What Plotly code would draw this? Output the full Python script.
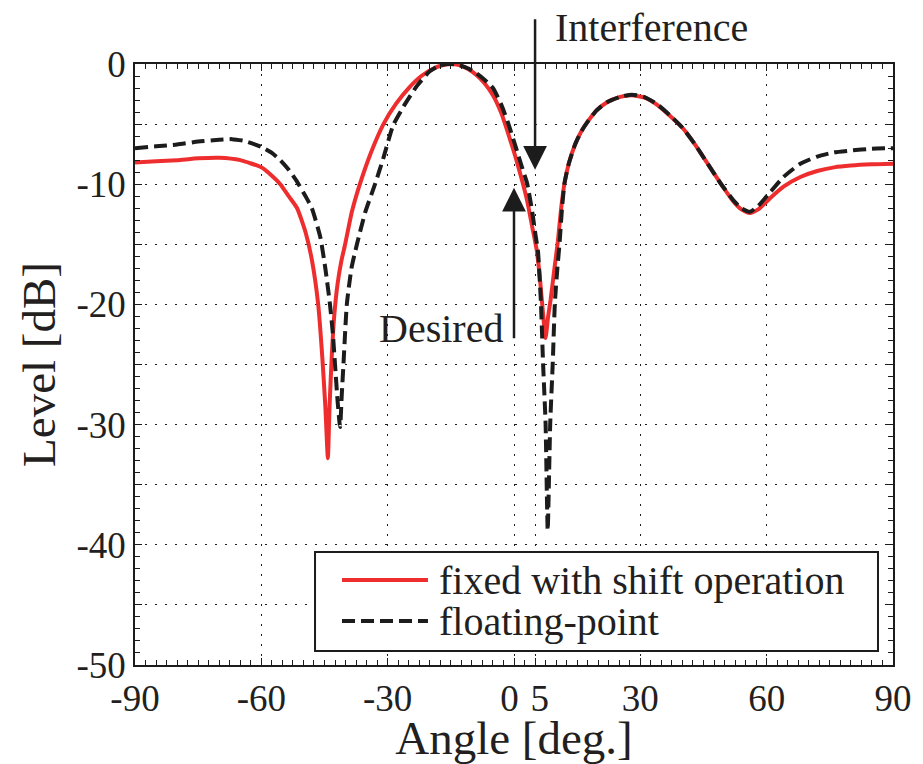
import plotly.graph_objects as go

# ---- data ----
fixed_x = [-90, -85, -80, -75, -70, -65, -60, -57.5, -55.5, -53.5, -51.5, -49.5, -48, -46.5, -45.5, -44.8,
           -44.2, -43.8, -43.3, -42.7, -41.9, -41.0, -40.1, -38.5, -36.6, -34, -31, -28, -25, -22, -19, -17, -15,
           -13, -11, -9, -7, -5, -3, -1, 0.5, 2, 3.2, 4.3, 5.4, 6.2, 6.9, 7.5, 8.1, 8.7, 9.5, 10.4, 11.2,
           12, 13, 14.5, 16, 17.5, 19.5, 22, 25, 28, 31, 34, 37, 40, 43, 46, 49, 52, 54, 56, 58, 61, 64,
           68, 72, 76, 80, 85, 90]
fixed_y = [-8.2, -8.1, -8.0, -7.85, -7.8, -8.0, -8.6, -9.3, -10.0, -11.0, -12.0, -14.0, -16.3, -20, -24.5, -28.5,
           -32.8, -28.5, -24.5, -21.0, -18.3, -16.4, -15, -12.3, -10, -7.4, -5, -3.3, -2.0, -1.0, -0.35, -0.1, 0,
           -0.1, -0.4, -0.9, -1.6, -2.6, -4.1, -6.2, -7.9, -9.8, -11.5, -13.5, -15.5, -18.0, -20.8, -22.8, -21, -19.6, -17.3, -14.8, -12,
           -9.9, -8.3, -6.7, -5.6, -4.8, -3.9, -3.2, -2.75, -2.6, -2.8, -3.4, -4.3, -5.3, -6.7, -8.3, -9.9, -11.4, -12.1, -12.4, -12.1, -11.1, -10.2,
           -9.4, -8.9, -8.6, -8.45, -8.35, -8.3]

float_x = [-90, -85, -80, -75, -70, -67, -64, -60, -57.5, -55.5, -53.5, -51.5, -49.5, -48, -46, -44.8,
           -43.7, -43, -42.5, -41.9, -41.3, -40.9, -40.5, -39.7, -38.6, -37.3, -35.3, -33, -31, -28.7, -26, -23,
           -20, -17.5, -15, -13, -11, -9, -7, -5, -3, -1.4, 0.5, 2, 3.1, 4.2, 5.1, 5.7, 6.4, 6.9, 7.5, 8.0,
           8.6, 9.2, 9.7, 10.3, 10.8, 11.4, 12, 13, 14.5, 16, 17.5, 19.5, 22, 25, 28, 31, 34, 37, 40, 43,
           46, 49, 52, 54, 56, 58, 61, 64, 68, 72, 76, 80, 85, 90]
float_y = [-7.0, -6.85, -6.7, -6.45, -6.3, -6.25, -6.4, -6.9, -7.4, -8.0, -8.8, -9.8, -11.0, -12.0, -14.4, -17,
           -20, -22.5, -25, -28, -30.2, -27.5, -25, -20, -17, -15, -12.3, -10, -7.8, -5.1, -3.4, -1.8,
           -0.6, -0.1, 0, -0.1, -0.35, -0.75, -1.3, -2.0, -3.4, -4.9, -7.0, -8.7, -9.9, -12, -14.2, -15.6, -19.9, -24.9, -29.9, -38.8,
           -29.9, -24.9, -19.9, -17, -15, -12, -9.9, -8.3, -6.7, -5.6, -4.8, -3.9, -3.2, -2.75, -2.55, -2.75, -3.35, -4.25, -5.3, -6.7,
           -8.3, -9.9, -11.3, -12.0, -12.3, -11.8, -10.6, -9.4, -8.3, -7.7, -7.35, -7.2, -7.05, -7.0]

x_ticks = [-90, -60, -30, 0, 5, 30, 60, 90]
x_ticktext = ["-90", "-60", "-30", "0\u00a0", "\u00a05", "30", "60", "90"]
y_ticks = [-50, -45, -40, -35, -30, -25, -20, -15, -10, -5, 0]
y_ticktext = ["-50", "", "-40", "", "-30", "", "-20", "", "-10", "", "0"]

series_names = ["fixed with shift operation", "floating-point"]

RED = "#ee2e2e"
BLK = "#1c1c1c"
FONT = "Liberation Serif"
TXT = "#231f20"

fig = go.Figure()
fig.add_trace(go.Scatter(x=fixed_x, y=fixed_y, mode="lines", name=series_names[0],
                         line=dict(color=RED, width=4, shape="spline", smoothing=0.5)))
fig.add_trace(go.Scatter(x=float_x, y=float_y, mode="lines", name=series_names[1],
                         line=dict(color=BLK, width=4, dash="13px,6px", shape="spline", smoothing=0.5)))

axis_common = dict(showline=True, linecolor=BLK, linewidth=1.5, mirror="allticks",
                   ticks="inside", ticklen=7, tickcolor=BLK, tickwidth=1, tickangle=0,
                   automargin=False,
                   showgrid=True, gridcolor=BLK, gridwidth=1, griddash="2px,8px",
                   zeroline=False, tickfont=dict(family=FONT, size=37, color=TXT))

fig.update_xaxes(range=[-90, 90], tickmode="array", tickvals=x_ticks, ticktext=x_ticktext,
                 minor=dict(dtick=2.5, tick0=0, ticks="inside", ticklen=5, tickwidth=1,
                            tickcolor=BLK, showgrid=False),
                 title=dict(text="Angle [deg.]", font=dict(family=FONT, size=47, color=TXT), standoff=2),
                 **axis_common)
fig.update_yaxes(range=[-50, 0], tickmode="array", tickvals=y_ticks, ticktext=y_ticktext,
                 minor=dict(dtick=1, tick0=0, ticks="inside", ticklen=5, tickwidth=1,
                            tickcolor=BLK, showgrid=False),
                 title=dict(text="Level [dB]", font=dict(family=FONT, size=47, color=TXT), standoff=6),
                 **axis_common)

# legend (drawn manually to match the boxed MATLAB style)
fig.add_shape(type="rect", xref="paper", yref="paper", x0=0.2375, x1=0.9802, y0=0.0233, y1=0.188,
              line=dict(color=BLK, width=2), fillcolor="white", layer="above")
fig.add_shape(type="line", xref="paper", yref="paper", x0=0.2731, x1=0.3865, y0=0.1414, y1=0.1414,
              line=dict(color=RED, width=4), layer="above")
fig.add_shape(type="line", xref="paper", yref="paper", x0=0.2731, x1=0.3865, y0=0.0732, y1=0.0732,
              line=dict(color=BLK, width=4, dash="13px,6px"), layer="above")
fig.add_annotation(xref="paper", yref="paper", x=0.3984, y=0.1414, text=series_names[0], showarrow=False,
                   xanchor="left", yanchor="middle", font=dict(family=FONT, size=40, color=TXT))
fig.add_annotation(xref="paper", yref="paper", x=0.3984, y=0.0732, text=series_names[1], showarrow=False,
                   xanchor="left", yanchor="middle", font=dict(family=FONT, size=40, color=TXT))

# arrows
fig.add_annotation(x=5, y=-8.8, xref="x", yref="y", ax=0, ay=-152, text="", showarrow=True,
                   arrowhead=2, arrowsize=1.9, arrowwidth=2.5, arrowcolor=BLK)
fig.add_annotation(x=0, y=-10.3, xref="x", yref="y", ax=0, ay=152, text="", showarrow=True,
                   arrowhead=2, arrowsize=1.9, arrowwidth=2.5, arrowcolor=BLK)
fig.add_annotation(x=9.3, y=1.06, xref="x", yref="paper", text="Interference", showarrow=False,
                   xanchor="left", yanchor="middle", font=dict(family=FONT, size=40, color=TXT))
fig.add_annotation(x=-2.1, y=-22.0, xref="x", yref="y", text="Desired", showarrow=False,
                   xanchor="right", yanchor="middle", font=dict(family=FONT, size=40, color=TXT))

fig.update_layout(width=923, height=764, margin=dict(l=135, r=30, t=64, b=99),
                  plot_bgcolor="white", paper_bgcolor="white", showlegend=False,
                  font=dict(family=FONT, color=TXT))

fig.write_html("out.html")
